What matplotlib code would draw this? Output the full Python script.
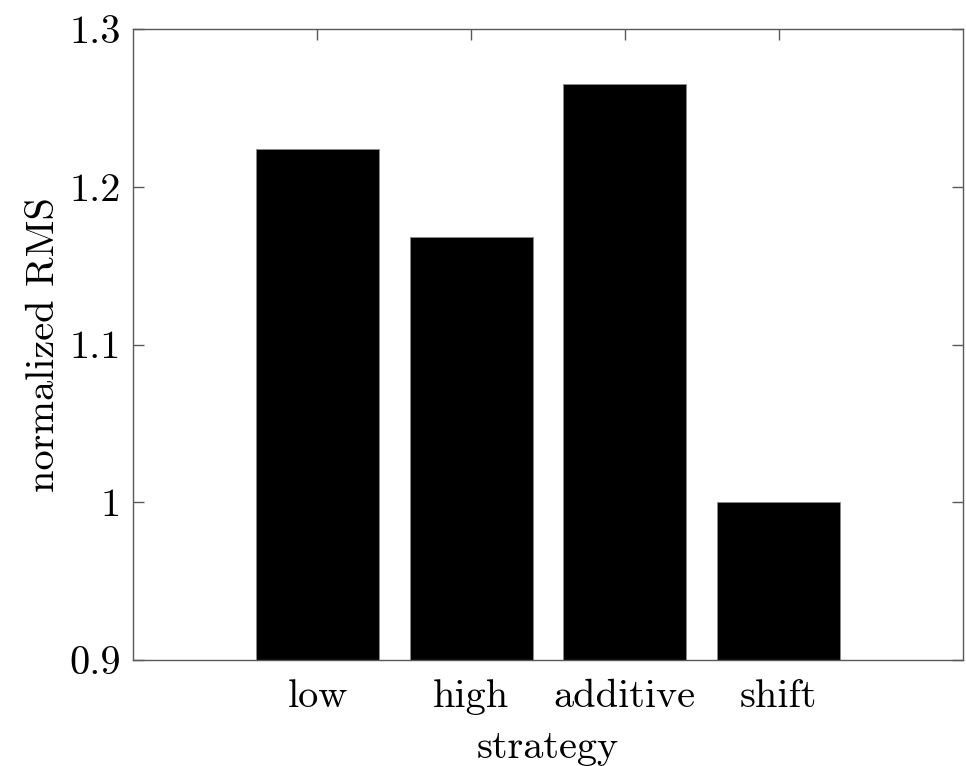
import matplotlib
matplotlib.use("Agg")
from matplotlib import pyplot as plt

# values
strategies = ["low", "high", "additive", "shift"]
positions = [1, 2, 3, 4]
rms_values = [1.2237, 1.1680, 1.2649, 1.0]
ytick_values = [0.9, 1.0, 1.1, 1.2, 1.3]
ytick_labels = ["0.9", "1", "1.1", "1.2", "1.3"]

plt.rcParams["font.family"] = ["cmr10", "DejaVu Serif"]
plt.rcParams["axes.unicode_minus"] = False

axis_gray = "0.35"

fig = plt.figure(figsize=(9.66, 7.66), dpi=100)
ax = fig.add_axes([0.1377, 0.1384, 0.9969 - 0.1377, 0.9621 - 0.1384])

ax.bar(positions, rms_values, width=0.8, color="black",
       edgecolor="0.55", linewidth=0.6, zorder=2)

ax.set_xlim(-0.2, 5.2)
ax.set_ylim(0.9, 1.3)
ax.set_xticks(positions)
ax.set_xticklabels(strategies)
ax.set_yticks(ytick_values)
ax.set_yticklabels(ytick_labels)

for spine in ax.spines.values():
    spine.set_color(axis_gray)
    spine.set_linewidth(1.0)
    spine.set_zorder(3)

ax.tick_params(axis="both", direction="in", length=8, width=1.0,
               color=axis_gray, labelsize=29, labelcolor="black",
               top=True, right=True)
ax.tick_params(axis="x", pad=14)
ax.tick_params(axis="y", pad=9)

ax.set_xlabel("strategy", fontsize=29, labelpad=11)
ax.set_ylabel("normalized RMS", fontsize=29, labelpad=5)

fig.savefig("out.png", dpi=100)
